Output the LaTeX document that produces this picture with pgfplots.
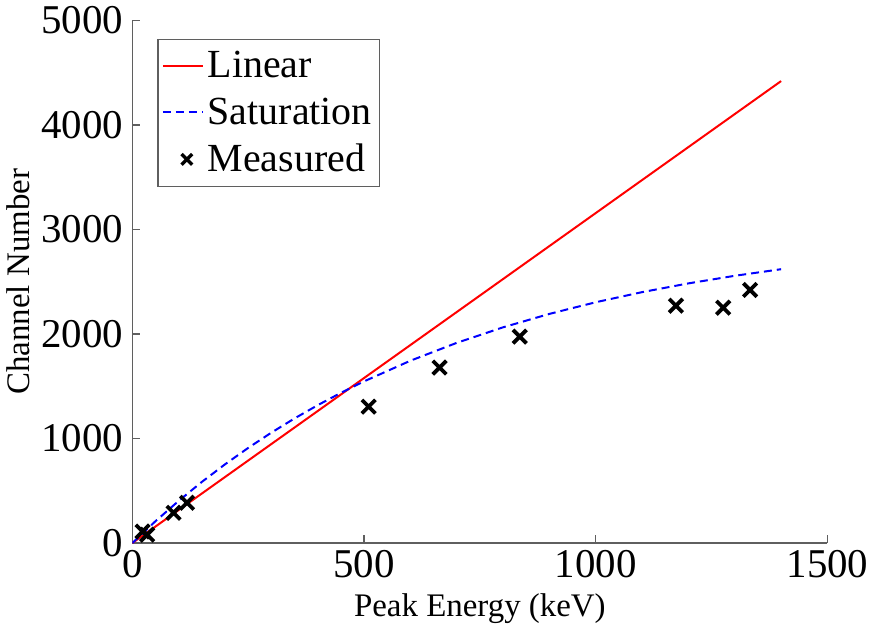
\documentclass[border=0pt]{standalone}
\usepackage{pgfplots}
\pgfplotsset{compat=1.18}
\usepackage{fontspec}
\setmainfont{Liberation Serif}
\definecolor{axgray}{RGB}{95,95,95}
\begin{document}
\begin{tikzpicture}
\begin{axis}[
  scale only axis,
  width=348.5pt, height=262pt,
  xmin=0, xmax=1500, ymin=0, ymax=5000,
  axis x line*=bottom, axis y line*=left,
  axis line style={axgray, line width=0.6pt},
  tick style={axgray, line width=0.6pt},
  tick align=inside,
  major tick length=4pt,
  xtick={0,500,1000,1500},
  ytick={0,1000,2000,3000,4000,5000},
  scaled ticks=false,
  /pgf/number format/assume math mode=true,
  /pgf/number format/1000 sep={},
  xticklabel={\pgfmathprintnumber{\tick}},
  yticklabel={\pgfmathprintnumber{\tick}},
  ticklabel style={font=\rmfamily\fontsize{20.5}{20.5}\selectfont},
  yticklabel style={xshift=-1pt},
  xlabel={Peak Energy (keV)},
  ylabel={Channel Number},
  label style={font=\rmfamily\fontsize{16.5}{16.5}\selectfont},
  xlabel style={yshift=-1pt},
  ylabel style={yshift=-1pt},
  legend style={at={(0.036,0.965)}, anchor=north west, draw=axgray, line width=0.6pt,
    font=\rmfamily\fontsize{20}{20}\selectfont, inner xsep=2pt, inner ysep=4pt, row sep=4.5pt},
  legend cell align=left,
  legend image code/.code={\draw[#1] (0pt,0pt) -- (20pt,0pt);},
]
\addplot[red, line width=1pt] coordinates {(0,0) (1400,4420)};
\addlegendentry{Linear}
\addplot[blue, line width=1pt, dash pattern=on 4pt off 2.5pt] coordinates {
(0,0) (50,208.9) (100,403.4) (150,584.5) (200,753.0) (250,910.0) (300,1056.1)
(350,1192.2) (400,1318.9) (450,1436.9) (500,1546.7) (600,1744.2) (700,1915.3)
(800,2063.7) (900,2192.4) (1000,2303.9) (1100,2400.5) (1200,2484.3)
(1300,2556.9) (1400,2619.9)};
\addlegendentry{Saturation}
\addplot[only marks, mark=x, mark size=4.8pt, mark options={line width=1.9pt, black}, 
  legend image code/.code={\draw[mark size=3.8pt, mark options={line width=1.7pt}] plot coordinates {(12pt,0pt)};}]
 coordinates {
(22,110) (32,80) (89,289) (118,385) (510,1305) (663,1679) (836,1975)
(1173,2271) (1275,2252) (1333,2421)};
\addlegendentry{Measured}
\end{axis}
\end{tikzpicture}
\end{document}
